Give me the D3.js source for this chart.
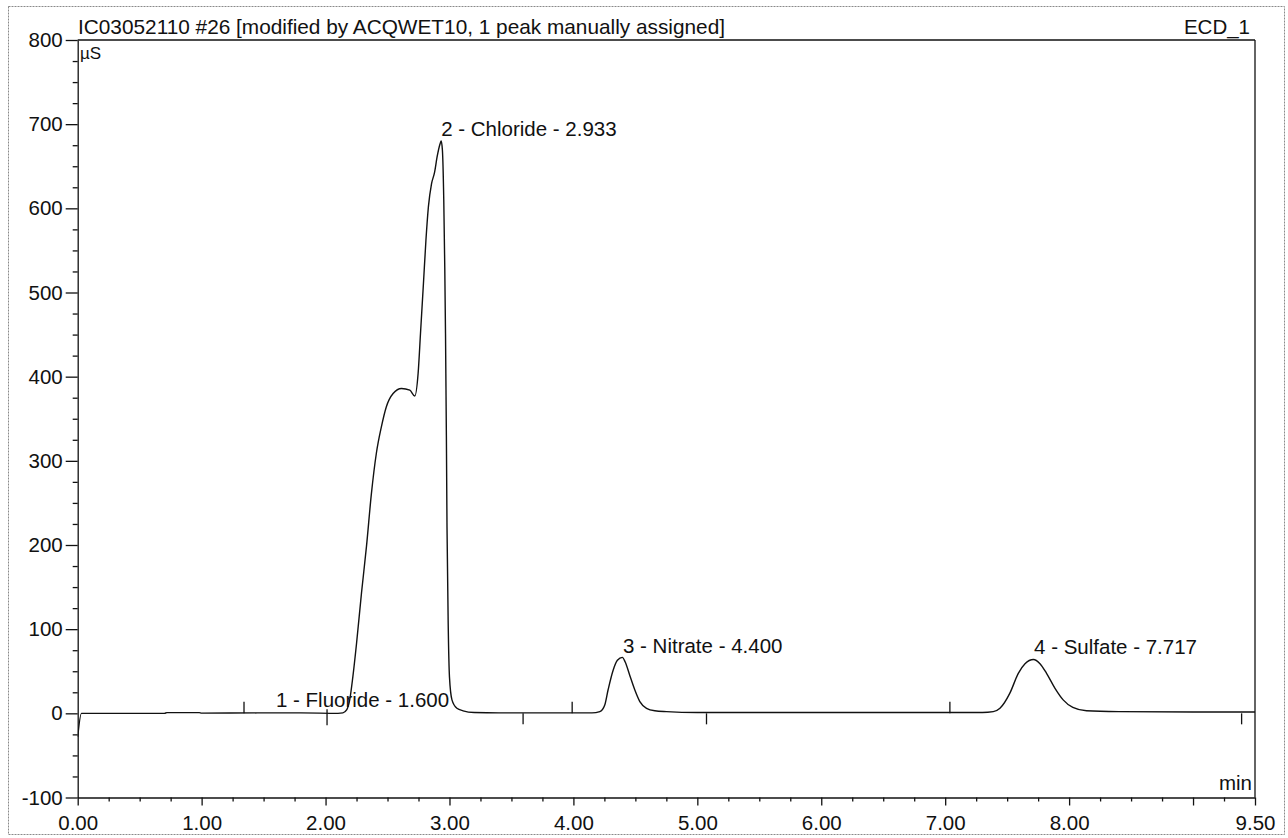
<!DOCTYPE html>
<html><head><meta charset="utf-8">
<script src="https://cdn.jsdelivr.net/npm/d3@7"></script>
<style>
html,body{margin:0;padding:0;background:#fff;}
svg{display:block;font-family:"Liberation Sans",Arial,Helvetica,sans-serif;}
</style></head><body>
<svg id="chart" width="1288" height="838"></svg>
<script>
// ---------- data ----------
const titleText = "IC03052110 #26 [modified by ACQWET10, 1 peak manually assigned]";
const channelText = "ECD_1";
const yUnitText = "µS";
const xUnitText = "min";

const traceTime = [0.00, 0.03, 0.30, 0.70, 0.72, 0.98, 1.00, 1.45, 1.80, 2.10, 2.14, 2.17, 2.195, 2.22, 2.25, 2.29, 2.33, 2.37, 2.41, 2.45, 2.49, 2.545, 2.613, 2.68, 2.72, 2.747, 2.766, 2.79, 2.81, 2.83, 2.855, 2.88, 2.90, 2.925, 2.933, 2.943, 2.954, 2.962, 2.968, 2.975, 2.98, 2.99, 3.00, 3.02, 3.06, 3.11, 3.20, 3.40, 4.15, 4.213, 4.253, 4.28, 4.32, 4.355, 4.395, 4.418, 4.455, 4.495, 4.536, 4.59, 4.657, 4.75, 5.00, 6.00, 7.30, 7.388, 7.442, 7.522, 7.59, 7.644, 7.712, 7.765, 7.818, 7.885, 7.952, 8.03, 8.14, 8.40, 9.00, 9.50];
const traceSignal = [-28, 0, 0, 0, 0.8, 0.8, 0.2, 0.5, 0.5, 0, 0.5, 4, 16, 43, 83, 143, 198, 261, 309, 340, 364, 380, 386, 384, 377, 404, 451, 511, 562, 602, 629, 643, 661, 677, 680, 669, 609, 530, 451, 330, 222, 103, 43, 16, 6, 3, 1, 0.5, 0.5, 2, 10, 28, 51, 63, 66.5, 61, 45, 28, 14, 6, 3, 2, 1, 1, 1, 2, 6, 24, 47.5, 59, 64, 59, 47.5, 30, 16, 7, 3, 2, 1.5, 1.5];

const peakNumbers = [1, 2, 3, 4];
const peakNames = ["Fluoride", "Chloride", "Nitrate", "Sulfate"];
const peakTimes = [1.600, 2.933, 4.400, 7.717];
const peakHeights = [1, 680, 66, 64];

const markerTimes = [1.342, 2.012, 3.594, 3.990, 5.074, 7.038, 9.392];
const markerTypes = ["start", "both", "end", "start", "end", "start", "end"];

const yTickValues = [-100, 0, 100, 200, 300, 400, 500, 600, 700, 800];
const yTickLabels = ["-100", "0", "100", "200", "300", "400", "500", "600", "700", "800"];
const yMinorTickValues = [-75, -50, -25, 25, 50, 75, 125, 150, 175, 225, 250, 275, 325, 350, 375, 425, 450, 475, 525, 550, 575, 625, 650, 675, 725, 750, 775];
const xTickValues = [0, 1, 2, 3, 4, 5, 6, 7, 8, 9, 9.5];
const xTickLabels = ["0.00", "1.00", "2.00", "3.00", "4.00", "5.00", "6.00", "7.00", "8.00", "", "9.50"];
const xMinorTickValues = [0.25, 0.5, 0.75, 1.25, 1.5, 1.75, 2.25, 2.5, 2.75, 3.25, 3.5, 3.75, 4.25, 4.5, 4.75, 5.25, 5.5, 5.75, 6.25, 6.5, 6.75, 7.25, 7.5, 7.75, 8.25, 8.5, 8.75, 9.25];

// ---------- layout ----------
const X0 = 77.7, X1 = 1255, YTOP = 40, YBOT = 797.5;
const FS = 20.5;
const svg = d3.select("#chart");
const x = d3.scaleLinear().domain([0, 9.5]).range([X0, X1]);
const y = d3.scaleLinear().domain([-100, 800]).range([YBOT, YTOP]);

// outer border
svg.append("rect").attr("x", 8.5).attr("y", 6.5).attr("width", 1276).attr("height", 828)
  .attr("fill", "none").attr("stroke", "#8a8a8a").attr("stroke-width", 1).attr("stroke-dasharray", "2,1");

// frame (top and right)
svg.append("line").attr("x1", X0).attr("x2", X1).attr("y1", YTOP).attr("y2", YTOP).attr("stroke", "#111").attr("stroke-width", 1.3);
svg.append("line").attr("x1", X1).attr("x2", X1).attr("y1", YTOP).attr("y2", YBOT).attr("stroke", "#111").attr("stroke-width", 1.3);

// y axis
svg.append("g").attr("transform", `translate(${X0},0)`)
  .call(d3.axisLeft(y).tickValues(yTickValues).tickSize(12).tickSizeOuter(0).tickPadding(3).tickFormat((d, i) => yTickLabels[i]));
svg.append("g").attr("transform", `translate(${X0},0)`)
  .call(d3.axisLeft(y).tickValues(yMinorTickValues).tickSize(5).tickFormat(""))
  .call(g => g.select(".domain").remove());

// x axis
const xAxis = svg.append("g").attr("transform", `translate(0,${YBOT})`)
  .call(d3.axisBottom(x).tickValues(xTickValues).tickSize(8).tickSizeOuter(0).tickFormat((d, i) => xTickLabels[i]));
xAxis.selectAll("text").attr("dy", null).attr("y", 32.5);
svg.append("g").attr("transform", `translate(0,${YBOT})`)
  .call(d3.axisBottom(x).tickValues(xMinorTickValues).tickSize(4).tickFormat(""))
  .call(g => g.select(".domain").remove());

svg.selectAll(".tick text").attr("font-size", FS).attr("font-family", "Liberation Sans, Arial, sans-serif").attr("fill", "#111");
svg.selectAll(".tick line, .domain").attr("stroke", "#111").attr("stroke-width", 1.3);

// clip
svg.append("clipPath").attr("id", "plotclip").append("rect")
  .attr("x", X0).attr("y", YTOP).attr("width", X1 - X0).attr("height", YBOT - YTOP);

// baseline markers
const markG = svg.append("g").attr("clip-path", "url(#plotclip)");
markerTimes.forEach((t, i) => {
  const type = markerTypes[i];
  const y0 = y(0);
  const up = type === "start" ? 11.5 : (type === "both" ? 4 : 0);
  const down = type === "end" ? 11 : (type === "both" ? 12 : 0);
  markG.append("line").attr("x1", x(t)).attr("x2", x(t)).attr("y1", y0 - up).attr("y2", y0 + down)
    .attr("stroke", "#111").attr("stroke-width", 1.3);
});

// trace
const traceData = traceTime.map((t, i) => [t, traceSignal[i]]);
svg.append("path").datum(traceData)
  .attr("clip-path", "url(#plotclip)")
  .attr("fill", "none").attr("stroke", "#111").attr("stroke-width", 1.4).attr("stroke-linejoin", "round")
  .attr("d", d3.line().x(d => x(d[0])).y(d => y(d[1])).curve(d3.curveMonotoneX));

// peak labels
peakTimes.forEach((t, i) => {
  svg.append("text").attr("x", x(t)).attr("y", y(peakHeights[i]) - 5)
    .attr("font-size", FS).attr("fill", "#111")
    .text(`${peakNumbers[i]} - ${peakNames[i]} - ${t.toFixed(3)}`);
});

// title & labels
svg.append("text").attr("x", 78).attr("y", 34).attr("font-size", 20.8).attr("fill", "#111").text(titleText);
svg.append("text").attr("x", 1250).attr("y", 34).attr("font-size", FS).attr("text-anchor", "end").attr("fill", "#111").text(channelText);
svg.append("text").attr("x", 80).attr("y", 59).attr("font-size", 17).attr("fill", "#111").text(yUnitText);
svg.append("text").attr("x", 1252).attr("y", 790).attr("font-size", FS).attr("text-anchor", "end").attr("fill", "#111").text(xUnitText);
</script>
</body></html>
